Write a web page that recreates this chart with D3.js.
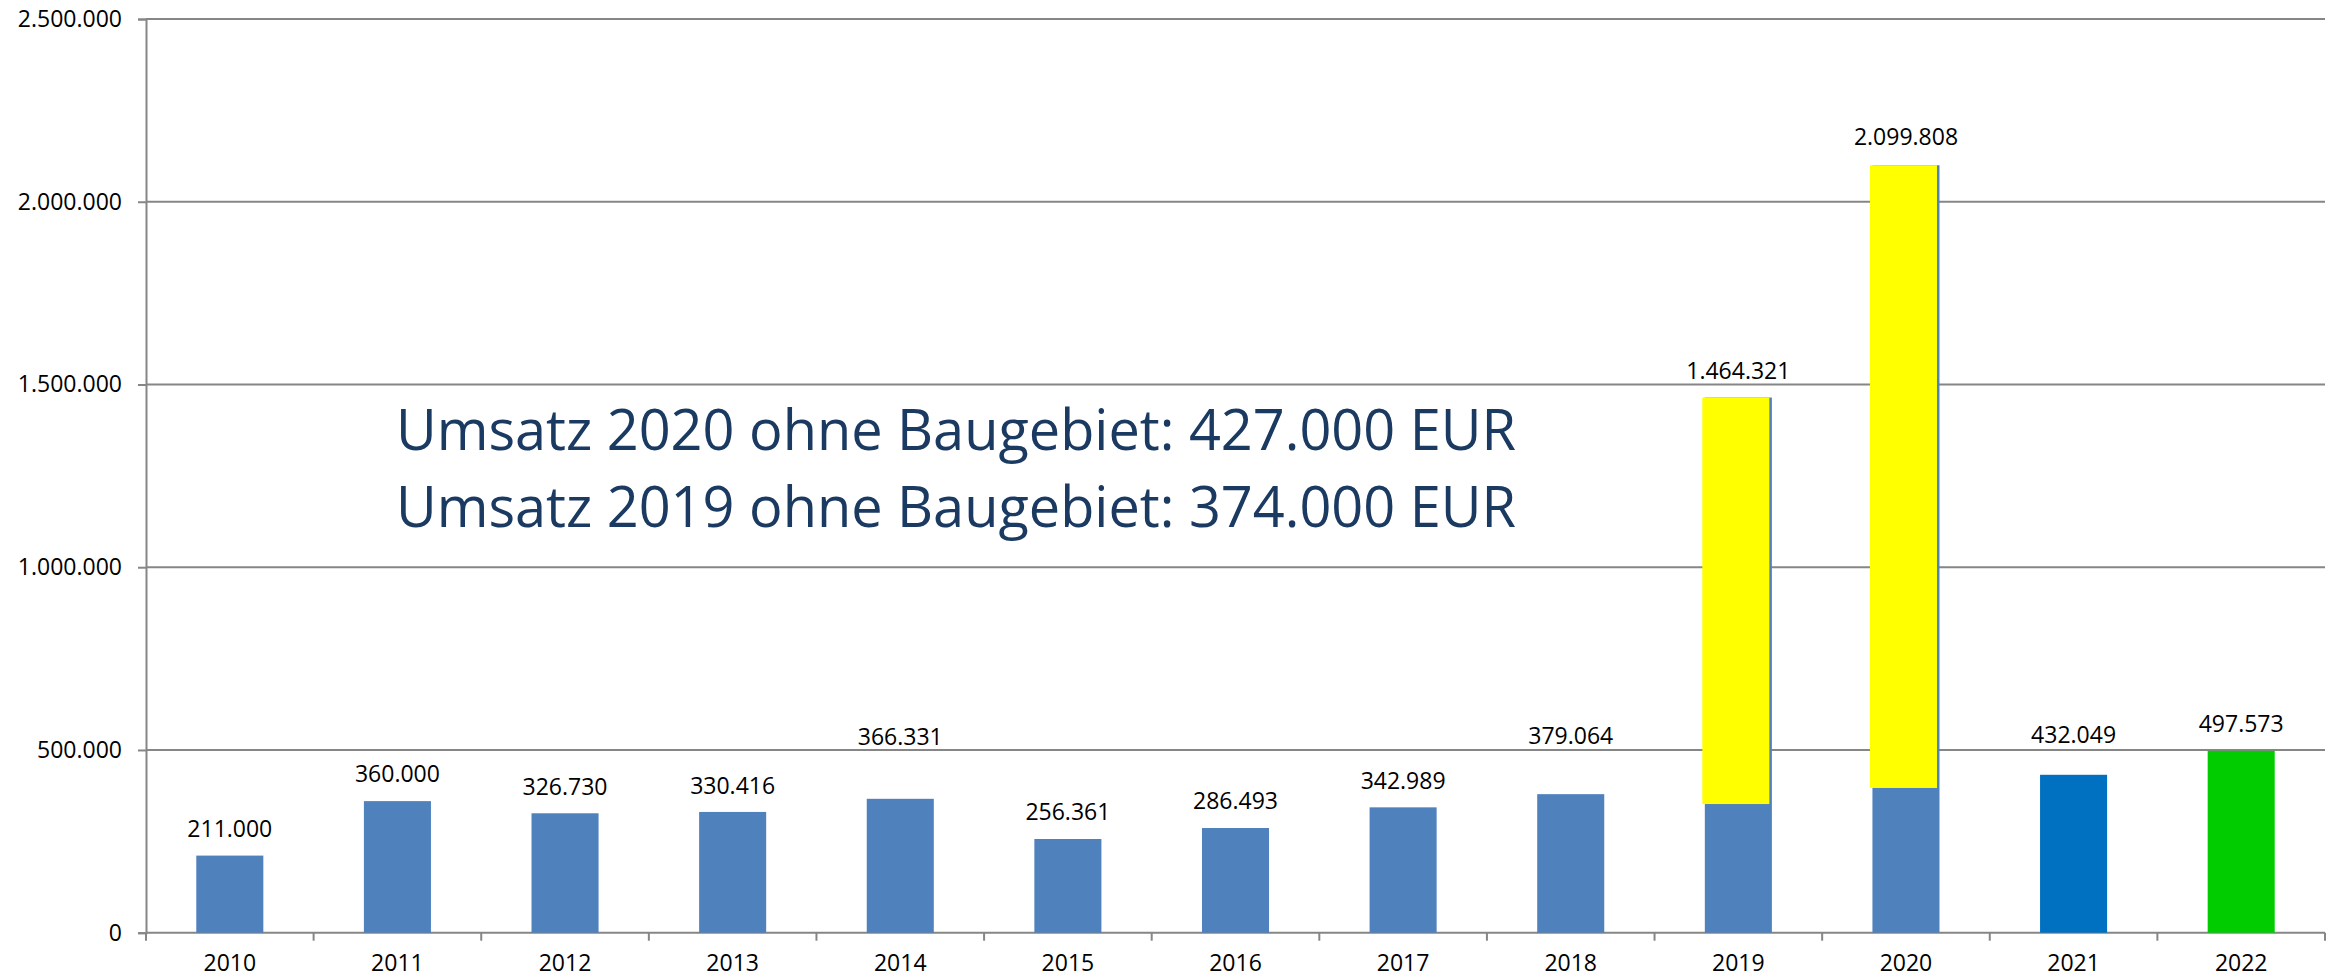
<!DOCTYPE html>
<html>
<head>
<meta charset="utf-8">
<script src="https://cdn.jsdelivr.net/npm/d3@7"></script>
<style>
  body { margin: 0; background: #fff; }
  text { font-family: "Open Sans", sans-serif; }
</style>
</head>
<body>
<div id="chart"></div>
<script>
const width = 2343, height = 980;

// data
const years = ["2010","2011","2012","2013","2014","2015","2016","2017","2018","2019","2020","2021","2022"];
const umsatz = [211000, 360000, 326730, 330416, 366331, 256361, 286493, 342989, 379064, 1464321, 2099808, 432049, 497573];
// part of 2019 / 2020 without the building area
const baseYears = ["2019","2020"];
const baseValues = [352000, 396000];
const yTicks = [0, 500000, 1000000, 1500000, 2000000, 2500000];
const notes = ["Umsatz 2020 ohne Baugebiet: 427.000 EUR", "Umsatz 2019 ohne Baugebiet: 374.000 EUR"];

// layout only: gap between label baseline and bar top (labels were moved by hand)
const labelGap = [19, 19, 18, 18, 54, 19, 19, 18, 50, 19, 20, 32, 19];
const barColor = {"2021": "#0070C0", "2022": "#00CC00"};

const de = d3.formatLocale({decimal: ",", thousands: ".", grouping: [3], currency: ["", " €"]});
const fmt = de.format(",d");

const svg = d3.select("#chart").append("svg")
  .attr("width", width).attr("height", height);

const x = d3.scaleBand()
  .domain(years)
  .range([146, 2325])
  .paddingInner(0.6)
  .paddingOuter(0.3);

const y = d3.scaleLinear()
  .domain([0, 2500000])
  .range([932.7, 19]);

// gridlines
svg.append("g").selectAll("line")
  .data(yTicks.slice(1))
  .enter().append("line")
  .attr("x1", 146).attr("x2", 2325)
  .attr("y1", d => y(d)).attr("y2", d => y(d))
  .attr("stroke", "#868686").attr("stroke-width", 2);

// y axis
const yAxis = svg.append("g")
  .attr("transform", "translate(146,0)")
  .call(d3.axisLeft(y).tickValues(yTicks).tickSize(8).tickPadding(16).tickFormat(fmt));
yAxis.select(".domain").attr("stroke", "#868686").attr("stroke-width", 2);
yAxis.selectAll(".tick line").attr("stroke", "#868686").attr("stroke-width", 2);
yAxis.selectAll("text").attr("font-size", 23).attr("fill", "#000")
  .attr("font-family", "Open Sans, sans-serif");

// x axis: line and ticks between categories
const step = x.step();
const bounds = years.map(d => x(d) - step * x.paddingInner() / 2);
bounds.push(x.range()[1]);
const xg = svg.append("g");
xg.append("line")
  .attr("x1", 146).attr("x2", 2325)
  .attr("y1", y(0)).attr("y2", y(0))
  .attr("stroke", "#868686").attr("stroke-width", 2);
xg.selectAll(".xt").data(bounds).enter().append("line")
  .attr("x1", d => d).attr("x2", d => d)
  .attr("y1", y(0)).attr("y2", y(0) + 8)
  .attr("stroke", "#868686").attr("stroke-width", 2);
xg.selectAll(".xl").data(years).enter().append("text")
  .attr("x", d => x(d) + x.bandwidth() / 2)
  .attr("y", 971)
  .attr("text-anchor", "middle")
  .attr("font-size", 23)
  .text(d => d);

// bars
svg.append("g").selectAll("rect")
  .data(years)
  .enter().append("rect")
  .attr("x", d => x(d))
  .attr("width", x.bandwidth())
  .attr("y", (d, i) => y(umsatz[i]))
  .attr("height", (d, i) => y(0) - y(umsatz[i]))
  .attr("fill", d => barColor[d] || "#4F81BD");

// yellow overlay for building area share
svg.append("g").selectAll("rect")
  .data(baseYears)
  .enter().append("rect")
  .attr("x", d => x(d) - 2.5)
  .attr("width", x.bandwidth())
  .attr("y", d => y(umsatz[years.indexOf(d)]))
  .attr("height", (d, i) => y(baseValues[i]) - y(umsatz[years.indexOf(d)]))
  .attr("fill", "#FFFF00");

// value labels
svg.append("g").selectAll("text")
  .data(years)
  .enter().append("text")
  .attr("x", d => x(d) + x.bandwidth() / 2)
  .attr("y", (d, i) => y(umsatz[i]) - labelGap[i])
  .attr("text-anchor", "middle")
  .attr("font-size", 23)
  .attr("fill", "#000")
  .text((d, i) => fmt(umsatz[i]));

// annotation
svg.append("g").selectAll("text")
  .data(notes)
  .enter().append("text")
  .attr("x", 396)
  .attr("y", (d, i) => 450 + i * 77)
  .attr("font-size", 57)
  .attr("fill", "#1B3A62")
  .attr("textLength", 1120)
  .attr("lengthAdjust", "spacingAndGlyphs")
  .text(d => d);
</script>
</body>
</html>
